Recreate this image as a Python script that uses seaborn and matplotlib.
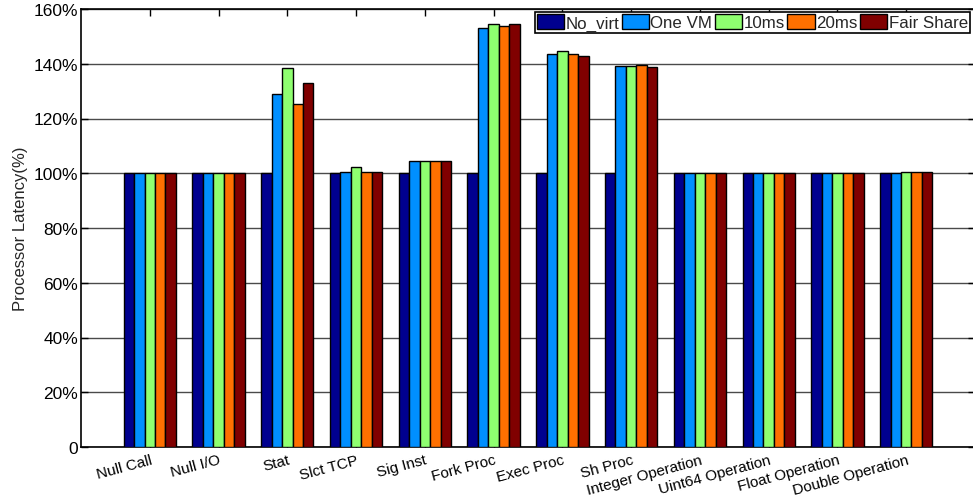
import matplotlib
matplotlib.use("Agg")
import matplotlib.pyplot as plt
import matplotlib.patches as mpatches
import seaborn as sns
import pandas as pd
import numpy as np

# Benchmarks and configurations
benchmarks = ["Null Call", "Null I/O", "Stat", "Slct TCP", "Sig Inst", "Fork Proc",
              "Exec Proc", "Sh Proc", "Integer Operation", "Uint64 Operation",
              "Float Operation", "Double Operation"]
configs = ["No_virt", "One VM", "10ms", "20ms", "Fair Share"]

# Relative latency (%) per configuration
no_virt    = [100, 100, 100,   100,   100,   100,   100,   100,   100, 100, 100, 100]
one_vm     = [100, 100, 129.0, 100.3, 104.6, 153.1, 143.6, 139.2, 100, 100, 100, 100]
ten_ms     = [100, 100, 138.3, 102.3, 104.6, 154.6, 144.7, 139.2, 100, 100, 100, 100.6]
twenty_ms  = [100, 100, 125.2, 100.3, 104.6, 153.8, 143.6, 139.4, 100, 100, 100, 100.6]
fair_share = [100, 100, 132.8, 100.3, 104.6, 154.5, 142.9, 138.8, 100, 100, 100, 100.6]

colors = ["#00008f", "#008fff", "#8fff70", "#ff7000", "#800000"]

series = [no_virt, one_vm, ten_ms, twenty_ms, fair_share]
rows = []
for cfg, vals in zip(configs, series):
    for b, v in zip(benchmarks, vals):
        rows.append({"benchmark": b, "config": cfg, "latency": v})
df = pd.DataFrame(rows)

sns.set_theme(style="white")
plt.rcParams["font.family"] = ["Liberation Sans", "DejaVu Sans"]

fig = plt.figure(figsize=(9.73, 5.02), dpi=100)
ax = fig.add_axes([81 / 973, 1 - 448 / 502, (975 - 81) / 973, (448 - 10) / 502])

sns.barplot(data=df, x="benchmark", y="latency", hue="config", order=benchmarks,
            hue_order=configs, palette=colors, width=0.76, edgecolor="black",
            linewidth=1.0, saturation=1, ax=ax, legend=False, zorder=3)

ax.set_xlim(-1, 12)
ax.set_ylim(0, 160)
yt = np.arange(0, 161, 20)
ax.set_yticks(yt)
ax.set_yticklabels(["0"] + [f"{v}%" for v in yt[1:]], fontsize=12.5)
ax.set_xticks(range(len(benchmarks)))
ax.set_xticklabels(benchmarks, rotation=15, ha="right", rotation_mode="anchor",
                   fontsize=11)
ax.set_xlabel("")
ax.set_ylabel("Processor Latency(%)", fontsize=12)
ax.yaxis.grid(True, color="#4a4a4a", linewidth=1.0, zorder=0)
ax.set_axisbelow(True)
ax.tick_params(axis="both", direction="in", length=5, width=1, colors="black",
               top=True, right=True, bottom=True, left=True, pad=2)
ax.tick_params(axis="x", pad=4)
for s in ax.spines.values():
    s.set_color("black")
    s.set_linewidth(1.2)

handles = [mpatches.Patch(facecolor=c, edgecolor="black", linewidth=1.0, label=l)
           for c, l in zip(colors, configs)]
leg = ax.legend(handles=handles, loc="upper right", ncol=5, fontsize=12.2,
                handlelength=1.6, handleheight=1.0, handletextpad=0.1,
                columnspacing=0.15, borderpad=0.12, borderaxespad=0.1,
                fancybox=False, framealpha=1, edgecolor="black",
                bbox_to_anchor=((972 - 81) / (975 - 81), 0.997))
leg.get_frame().set_linewidth(1.2)

fig.savefig("out.png", dpi=100)
